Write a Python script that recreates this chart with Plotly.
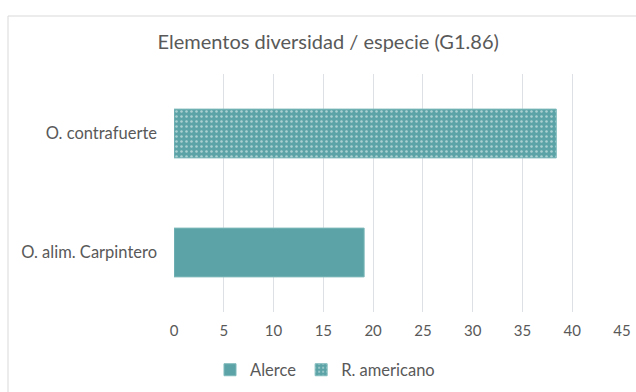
import plotly.graph_objects as go

# Categories (bottom to top) and series values
categories = ["O. alim. Carpintero", "O. contrafuerte"]
alerce_cats = ["O. alim. Carpintero"]
alerce_vals = [19.1]
ramericano_cats = ["O. contrafuerte"]
ramericano_vals = [38.4]
tick_vals = [0, 5, 10, 15, 20, 25, 30, 35, 40, 45]

TEAL = "#5BA3A6"
GRID = "#DDE1E6"
TEXT = "#595959"
FONT = "Lato"

W, H = 636, 392
ML, MR, MT, MB = 174, 14, 74, 80
pw = W - ML - MR
ph = H - MT - MB


def px_to_paper_x(px):
    return (px - ML) / pw


def px_to_paper_y(py):
    return (H - MB - py) / ph


fig = go.Figure()
fig.add_trace(go.Bar(
    name="Alerce", orientation="h",
    y=alerce_cats, x=alerce_vals,
    width=0.41,
    marker=dict(color=TEAL, line=dict(color="#7FB9BB", width=1)),
))
fig.add_trace(go.Bar(
    name="R. americano", orientation="h",
    y=ramericano_cats, x=ramericano_vals,
    width=0.41,
    marker=dict(color=TEAL, line=dict(color="#7FB9BB", width=1),
                pattern=dict(shape=".", fgcolor="white", bgcolor=TEAL,
                             size=5, solidity=0.2)),
))

fig.update_layout(
    width=W, height=H,
    margin=dict(l=ML, r=MR, t=MT, b=MB),
    paper_bgcolor="white", plot_bgcolor="white",
    barmode="overlay",
    font=dict(family=FONT, color=TEXT, size=15),
    title=dict(text="Elementos diversidad / especie (G1.86)",
               x=0.516, xanchor="center", y=1 - 42 / H, yanchor="middle",
               font=dict(family=FONT, size=20, color=TEXT)),
    xaxis=dict(range=[0, 45], tickvals=tick_vals, showgrid=True,
               gridcolor=GRID, gridwidth=1, zeroline=False,
               showline=False, ticks="", ticklabelstandoff=8,
               automargin=False,
               tickfont=dict(size=15, color=TEXT), fixedrange=True),
    yaxis=dict(type="category", categoryorder="array", categoryarray=categories,
               range=[-0.5, 1.5], showgrid=False, zeroline=False,
               showline=False, ticks="", ticklabelstandoff=16,
               automargin=False,
               tickfont=dict(size=16.5, color=TEXT)),
    legend=dict(orientation="h", xref="container", yref="container",
                x=325 / W, xanchor="center",
                y=1 - 370 / H, yanchor="middle",
                font=dict(size=16.5, color=TEXT), itemwidth=30,
                traceorder="normal"),
    showlegend=True,
    shapes=[dict(type="rect", xref="paper", yref="paper",
                 x0=px_to_paper_x(8), x1=px_to_paper_x(700),
                 y0=px_to_paper_y(16), y1=px_to_paper_y(450),
                 line=dict(color="#D9D9D9", width=1), layer="below")],
)

fig.write_html("out.html")
